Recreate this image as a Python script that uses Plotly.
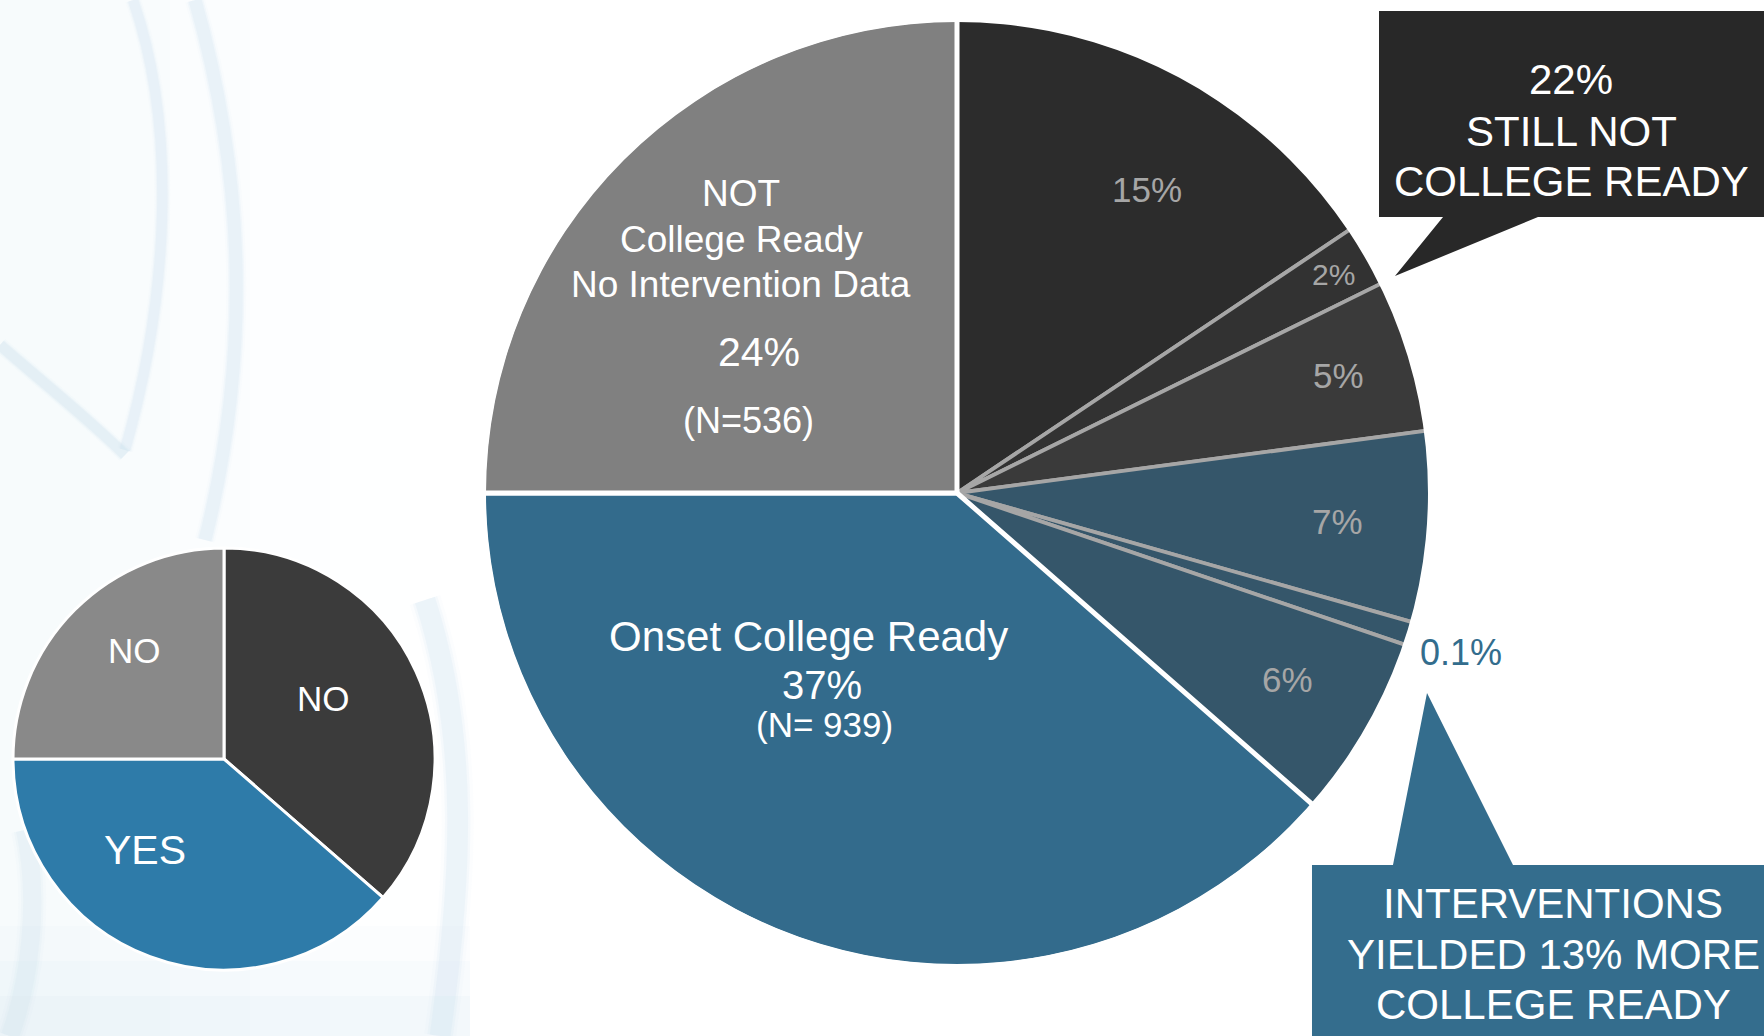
import plotly.graph_objects as go

# ---------------- data ----------------
big_labels = ["15%", "2%", "5%", "7%", "0.1%", "6%",
              "Onset College Ready", "NOT College Ready No Intervention Data"]
# slice sizes as drawn in the picture (share of the circle, %)
big_sizes = [15.6, 2.1, 5.2, 6.5, 0.8, 6.25, 38.55, 25.0]

small_labels = ["NO (intervention)", "YES", "NO (no data)"]
small_texts = ["NO", "YES", "NO"]
small_sizes = [36.4, 38.6, 25.0]

not_ready_lines = ["NOT", "College Ready", "No Intervention Data"]
not_ready_pct = "24%"
not_ready_n = "(N=536)"
onset_lines = ["Onset College Ready"]
onset_pct = "37%"
onset_n = "(N= 939)"

callout_top = ["22%", "STILL NOT", "COLLEGE READY"]
callout_bottom = ["INTERVENTIONS", "YIELDED 13% MORE", "COLLEGE READY"]

# ---------------- styles ----------------
W, H = 1764, 1036
FONT = "Liberation Sans, Arial, sans-serif"


def px(x):
    return x / W


def py(y):
    return 1 - y / H


big_colors = ["#2c2c2c", "#323232", "#3a3a3a", "#35566a", "#35566a", "#35566a",
              "#336b8c", "#808080"]
big_line_colors = ["#a6a6a6"] * 6 + ["white", "white"]
big_line_widths = [3.8, 3.8, 3.8, 3.8, 3.8, 3.8, 5, 5]
small_colors = ["#3b3b3b", "#2e7ba9", "#898989"]

BIG_C = (957, 493)
BIG_R = 474          # drawn radius; the white rim trims it to ~471
RIM = 3
SMALL_C = (224, 759)
SMALL_R = 211


def domain(c, r):
    return dict(x=[px(c[0] - r), px(c[0] + r)], y=[py(c[1] + r), py(c[1] - r)])


fig = go.Figure()

fig.add_trace(go.Pie(
    values=big_sizes, labels=big_labels, sort=False, direction="clockwise",
    rotation=0, textinfo="none", hoverinfo="label", showlegend=False,
    marker=dict(colors=big_colors,
                line=dict(color=big_line_colors, width=big_line_widths)),
    domain=domain(BIG_C, BIG_R),
))
# white rim that hides the outer stroke of the slices
fig.add_trace(go.Pie(
    values=[1], labels=["rim"], hole=(BIG_R - RIM) / (BIG_R + RIM), sort=False,
    textinfo="none", hoverinfo="skip", showlegend=False,
    marker=dict(colors=["white"], line=dict(width=0)),
    domain=domain(BIG_C, BIG_R + RIM),
))

fig.add_trace(go.Pie(
    values=small_sizes, labels=small_labels, sort=False, direction="clockwise",
    rotation=0, textinfo="none", hoverinfo="label", showlegend=False,
    marker=dict(colors=small_colors, line=dict(color="white", width=3)),
    domain=domain(SMALL_C, SMALL_R),
))

annotations = []


def add_text(text, x, y, size, color="white"):
    annotations.append(dict(
        text=text, x=px(x), y=py(y), xref="paper", yref="paper",
        xanchor="center", yanchor="middle", showarrow=False,
        font=dict(family=FONT, size=size, color=color)))


# slice percentage labels (pixel anchors of text centres)
pct_pos = {"15%": (1147, 190, 35), "2%": (1333, 275, 30), "5%": (1338, 376, 35),
           "7%": (1337, 521, 35), "6%": (1287, 679, 35)}
for lab in big_labels[:6]:
    if lab in pct_pos:
        x, y, s = pct_pos[lab]
        add_text(lab, x, y, s, "#a6a6a6")
add_text(big_labels[4], 1461, 652, 36, "#336d8d")

# NOT college ready block
for line, y in zip(not_ready_lines, [193, 239, 284]):
    add_text(line, 741, y, 37)
add_text(not_ready_pct, 759, 352, 41)
add_text(not_ready_n, 748, 420, 36)

# Onset block
add_text(onset_lines[0], 808, 636, 42)
add_text(onset_pct, 822, 685, 40)
add_text(onset_n, 824, 724, 35)

# small pie labels
small_pos = [(323, 698, 35), (145, 850, 41), (134, 650, 35)]
for t, (x, y, s) in zip(small_texts, small_pos):
    add_text(t, x, y, s)


def path_px(points):
    return "M " + " L ".join(f"{px(x):.5f},{py(y):.5f}" for x, y in points) + " Z"


shapes = []


def swoosh(pts, width, alpha):
    (x0, y0), (x1, y1), (x2, y2), (x3, y3) = pts
    d = (f"M {px(x0):.5f},{py(y0):.5f} C {px(x1):.5f},{py(y1):.5f} "
         f"{px(x2):.5f},{py(y2):.5f} {px(x3):.5f},{py(y3):.5f}")
    # layered strokes to fake a soft blur
    for k, f in enumerate([1.0, 0.6, 0.3]):
        shapes.append(dict(type="path", path=d, xref="paper", yref="paper",
                           line=dict(color=f"rgba(200,222,236,{alpha * (0.5 + 0.5 * k):.3f})",
                                     width=width * (1 + f)),
                           layer="below"))


# faint background tint fading to the right (decorative)
for i, a in enumerate([0.06, 0.05, 0.04, 0.03, 0.02]):
    shapes.append(dict(type="rect", xref="paper", yref="paper",
                       x0=0, x1=px(90 + 80 * i), y0=0, y1=1,
                       fillcolor=f"rgba(214,230,240,{a})", line=dict(width=0),
                       layer="below"))
for i, a in enumerate([0.10, 0.08, 0.06]):
    shapes.append(dict(type="rect", xref="paper", yref="paper",
                       x0=0, x1=px(470), y0=0, y1=py(1036 - 40 - 35 * i),
                       fillcolor=f"rgba(205,224,236,{a})", line=dict(width=0),
                       layer="below"))
swoosh([(133, 0), (178, 130), (168, 300), (125, 450)], 8, 0.12)
swoosh([(195, 0), (252, 200), (245, 380), (205, 540)], 10, 0.12)
swoosh([(0, 345), (40, 380), (90, 420), (125, 455)], 8, 0.14)
swoosh([(425, 600), (470, 740), (462, 880), (440, 1036)], 16, 0.12)
swoosh([(25, 830), (40, 900), (30, 980), (10, 1036)], 14, 0.10)

# callout boxes
shapes.append(dict(type="path", xref="paper", yref="paper",
                   path=path_px([(1379, 11), (1764, 11), (1764, 217), (1538, 217),
                                 (1395, 276), (1443, 217), (1379, 217)]),
                   fillcolor="#282828", line=dict(width=0)))
shapes.append(dict(type="path", xref="paper", yref="paper",
                   path=path_px([(1312, 865), (1393, 865), (1427, 693), (1513, 865),
                                 (1764, 865), (1764, 1036), (1312, 1036)]),
                   fillcolor="#346d8d", line=dict(width=0)))

for line, y in zip(callout_top, [79, 131, 182]):
    add_text(line, 1571, y, 42)
for line, y in zip(callout_bottom, [903, 954, 1004]):
    add_text(line, 1553, y, 42)

fig.update_layout(
    width=W, height=H, margin=dict(l=0, r=0, t=0, b=0, pad=0),
    paper_bgcolor="white", plot_bgcolor="white",
    shapes=shapes, annotations=annotations, showlegend=False,
    font=dict(family=FONT),
)

fig.write_html("out.html")
